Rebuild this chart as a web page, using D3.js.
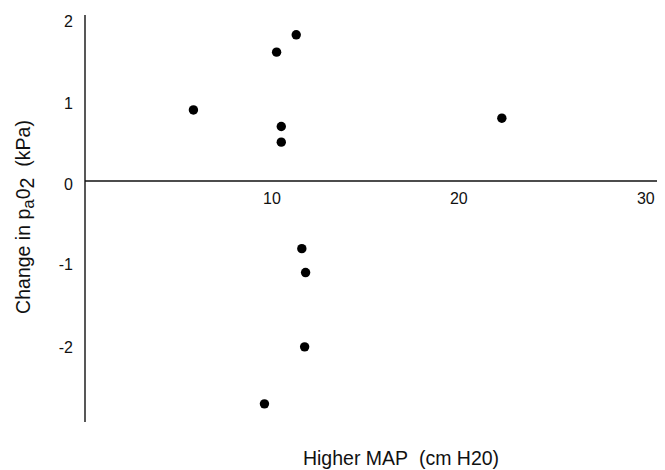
<!DOCTYPE html>
<html><head><meta charset="utf-8">
<script src="https://cdn.jsdelivr.net/npm/d3@7"></script>
<style>body{margin:0;background:#fff}svg{display:block}text{font-family:"Liberation Sans",Arial,sans-serif;fill:#111}</style>
</head><body><svg id="c" width="665" height="470"></svg>
<script>
const xValues = [5.8, 10.25, 11.3, 10.5, 10.5, 22.3, 11.6, 11.8, 11.75, 9.6];
const yValues = [0.86, 1.56, 1.77, 0.66, 0.47, 0.76, -0.82, -1.11, -2.01, -2.70];
const xTicks = [10, 20, 30];
const yTicks = [2, 1, 0, -1, -2];

const svg = d3.select("#c");
const x = d3.scaleLinear().domain([0, 30.6]).range([85, 657]);
const y = d3.scaleLinear().domain([-2.92, 2.01]).range([422, 15]);

svg.append("line").attr("x1", x(0)).attr("x2", x(0)).attr("y1", y(2.01)).attr("y2", y(-2.92))
  .attr("stroke", "#111").attr("stroke-width", 1.4);
svg.append("line").attr("x1", x(0)).attr("x2", x(30.6)).attr("y1", y(0)).attr("y2", y(0))
  .attr("stroke", "#111").attr("stroke-width", 1.4);

svg.selectAll("text.yt").data(yTicks).join("text").attr("class", "yt")
  .attr("x", 73).attr("y", d => y(d) + (d > 0 ? 11 : d === 0 ? 9 : 7))
  .attr("text-anchor", "end").attr("font-size", 16).text(d => d);

svg.selectAll("text.xt").data(xTicks).join("text").attr("class", "xt")
  .attr("x", d => x(d)).attr("y", y(0) + 23)
  .attr("text-anchor", "middle").attr("font-size", 16).text(d => d);

svg.selectAll("circle").data(xValues).join("circle")
  .attr("cx", (d) => x(d)).attr("cy", (d, i) => y(yValues[i])).attr("r", 4.7).attr("fill", "#000");

const yl = svg.append("text").attr("transform", "translate(30,217) rotate(-90)")
  .attr("text-anchor", "middle").attr("font-size", 19.5);
yl.append("tspan").text("Change in p");
yl.append("tspan").attr("dy", 4).attr("font-size", 17).text("a");
yl.append("tspan").attr("dy", -4).text("0");
yl.append("tspan").attr("dy", 4).text("2");
yl.append("tspan").attr("dy", -4).text("\u00a0\u00a0(kPa)");

svg.append("text").attr("x", 401).attr("y", 465).attr("text-anchor", "middle")
  .attr("font-size", 19.5).text("Higher MAP\u00a0\u00a0(cm H20)");
</script></body></html>
